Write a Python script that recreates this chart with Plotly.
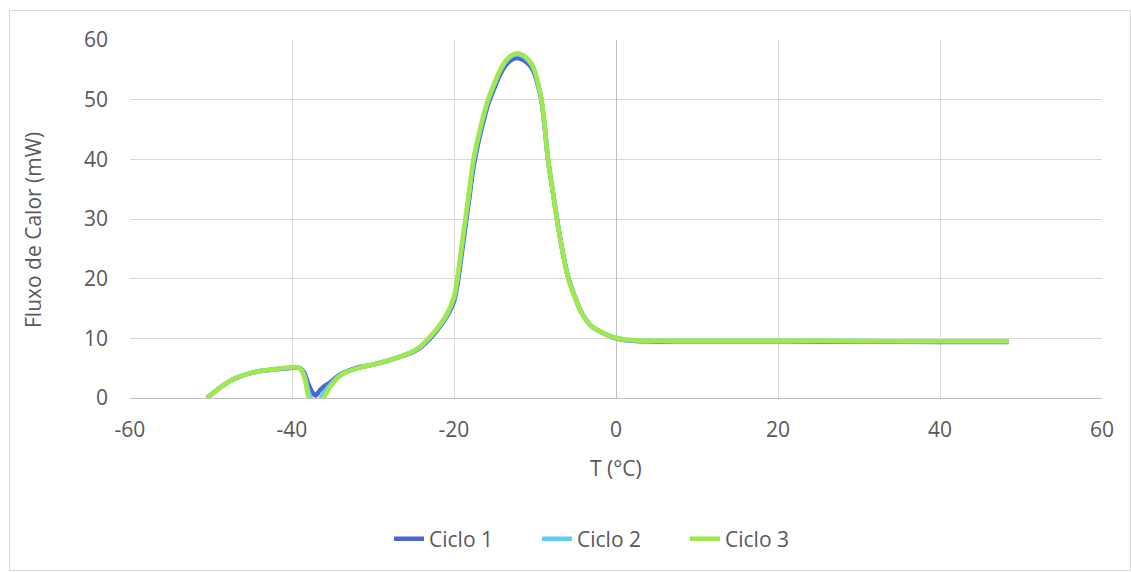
import plotly.graph_objects as go

# Temperature grid (°C) shared by the three DSC cycles
temp = [-50.5, -49.5, -48.5, -47.3, -46.0, -45.0, -43.5, -42.0, -40.5, -39.6,
        -39.0, -38.5, -38.0, -37.5, -37.1, -36.6, -36.1, -35.3, -34.1, -33.0,
        -31.6, -30.0, -28.3, -26.7, -25.4, -24.2, -23.0, -22.0, -21.0, -20.0,
        -19.6, -19.1, -18.6, -18.1, -17.6, -17.2, -16.8, -16.3, -15.8, -15.0,
        -14.3, -13.7, -13.0, -12.2, -11.5, -11.0, -10.4, -10.0, -9.6, -9.2,
        -8.8, -8.4, -7.8, -7.3, -6.6, -5.9, -5.0, -4.2, -3.0, -2.2,
        -1.0, 0.0, 1.0, 2.0, 3.5, 10.0, 20.0, 30.0, 40.0, 48.5]

# Heat flow (mW) for each cycle
ciclo1 = [0.0, 1.1, 2.1, 3.1, 3.8, 4.2, 4.6, 4.8, 5.0, 5.1,
          5.0, 4.3, 2.4, 1.0, 0.4, 1.2, 1.9, 2.6, 3.9, 4.6,
          5.2, 5.6, 6.2, 6.9, 7.5, 8.4, 9.9, 11.5, 13.4, 16.2,
          18.8, 23.6, 28.6, 33.6, 38.6, 41.5, 44.0, 46.7, 49.2, 52.0,
          54.2, 55.6, 56.6, 57.0, 56.7, 56.2, 55.3, 54.1, 52.2, 49.8,
          45.4, 40.0, 34.6, 30.1, 24.6, 20.2, 16.7, 14.2, 12.0, 11.3,
          10.5, 10.0, 9.7, 9.6, 9.5, 9.5, 9.5, 9.45, 9.4, 9.4]

ciclo2 = [0.0, 1.1, 2.1, 3.1, 3.8, 4.2, 4.6, 4.85, 5.05, 5.15,
          5.0, 3.9, 1.2, -0.6, -1.2, -0.5, 0.8, 2.2, 3.8, 4.5,
          5.1, 5.6, 6.2, 6.9, 7.6, 8.5, 10.1, 11.7, 13.6, 16.7,
          19.6, 24.6, 29.6, 34.6, 39.6, 42.3, 44.7, 47.4, 49.8, 52.6,
          54.8, 56.2, 57.2, 57.6, 57.3, 56.8, 55.8, 54.6, 52.6, 50.0,
          45.5, 40.1, 34.6, 30.1, 24.6, 20.1, 16.6, 14.1, 12.0, 11.3,
          10.5, 10.1, 9.8, 9.7, 9.6, 9.6, 9.6, 9.55, 9.5, 9.5]

ciclo3 = [0.0, 1.1, 2.1, 3.1, 3.8, 4.2, 4.6, 4.85, 5.1, 5.2,
          4.9, 3.6, 0.2, -2.2, -3.0, -1.8, 0.0, 1.8, 3.7, 4.5,
          5.1, 5.6, 6.2, 6.9, 7.6, 8.6, 10.2, 11.8, 13.8, 17.0,
          20.0, 25.0, 30.0, 35.0, 40.0, 42.7, 45.0, 47.7, 50.0, 52.8,
          55.0, 56.4, 57.4, 57.8, 57.5, 57.0, 56.0, 54.7, 52.6, 50.0,
          45.5, 40.0, 34.5, 30.0, 24.5, 20.0, 16.6, 14.1, 12.0, 11.3,
          10.5, 10.1, 9.8, 9.7, 9.6, 9.6, 9.6, 9.55, 9.5, 9.5]

series = [("Ciclo 1", ciclo1, "#4A66D0"),
          ("Ciclo 2", ciclo2, "#5DCDF5"),
          ("Ciclo 3", ciclo3, "#A0E84C")]

x_ticks = [-60, -40, -20, 0, 20, 40, 60]
y_ticks = [0, 10, 20, 30, 40, 50, 60]

TEXT = "#595959"
GRID = "#D9D9D9"
AXIS = "#BFBFBF"
FONT = "Open Sans"
FS = 21

W, H = 1131, 572
ML, MR, MT, MB = 130, 29, 40, 174
PW, PH = W - ML - MR, H - MT - MB


def px_to_paper_x(px):
    return (px - ML) / PW


def px_to_paper_y(py):
    return (H - MB - py) / PH


fig = go.Figure()
for name, vals, color in series:
    fig.add_trace(go.Scatter(
        x=temp, y=vals, name=name, mode="lines",
        line=dict(color=color, width=4.5, shape="spline", smoothing=0.8),
    ))

fig.update_layout(
    width=W, height=H,
    margin=dict(l=ML, r=MR, t=MT, b=MB, autoexpand=False),
    paper_bgcolor="white", plot_bgcolor="white",
    font=dict(family=FONT, color=TEXT, size=FS),
    showlegend=True,
    legend=dict(orientation="h", x=px_to_paper_x(611), xanchor="center",
                y=px_to_paper_y(539), yanchor="middle",
                font=dict(size=FS, color=TEXT), entrywidth=103,
                bgcolor="rgba(0,0,0,0)"),
    xaxis=dict(range=[-60, 60], tickvals=x_ticks, ticktext=[str(v) for v in x_ticks],
               showgrid=True, gridcolor=GRID, gridwidth=1,
               zeroline=True, zerolinecolor=AXIS, zerolinewidth=1,
               showline=True, linecolor=AXIS, linewidth=1,
               ticks="", ticklabelstandoff=13,
               tickfont=dict(size=FS, color=TEXT, family=FONT)),
    yaxis=dict(range=[0, 60], tickvals=y_ticks, ticktext=[str(v) for v in y_ticks],
               showgrid=True, gridcolor=GRID, gridwidth=1,
               zeroline=False, showline=False,
               ticks="", ticklabelstandoff=21,
               tickfont=dict(size=FS, color=TEXT, family=FONT)),
    shapes=[dict(type="rect", xref="paper", yref="paper",
                 x0=px_to_paper_x(9.5), x1=px_to_paper_x(1130.5),
                 y0=px_to_paper_y(570.5), y1=px_to_paper_y(10.5),
                 line=dict(color=GRID, width=1), fillcolor="rgba(0,0,0,0)",
                 layer="below")],
    annotations=[
        dict(text="T (°C)", xref="paper", yref="paper",
             x=px_to_paper_x(616), y=px_to_paper_y(468),
             xanchor="center", yanchor="middle", showarrow=False,
             font=dict(size=FS, color=TEXT, family=FONT)),
        dict(text="Fluxo de Calor (mW)", xref="paper", yref="paper",
             x=px_to_paper_x(33), y=px_to_paper_y(230), textangle=-90,
             xanchor="center", yanchor="middle", showarrow=False,
             font=dict(size=FS, color=TEXT, family=FONT)),
    ],
)

fig.write_html("out.html")
